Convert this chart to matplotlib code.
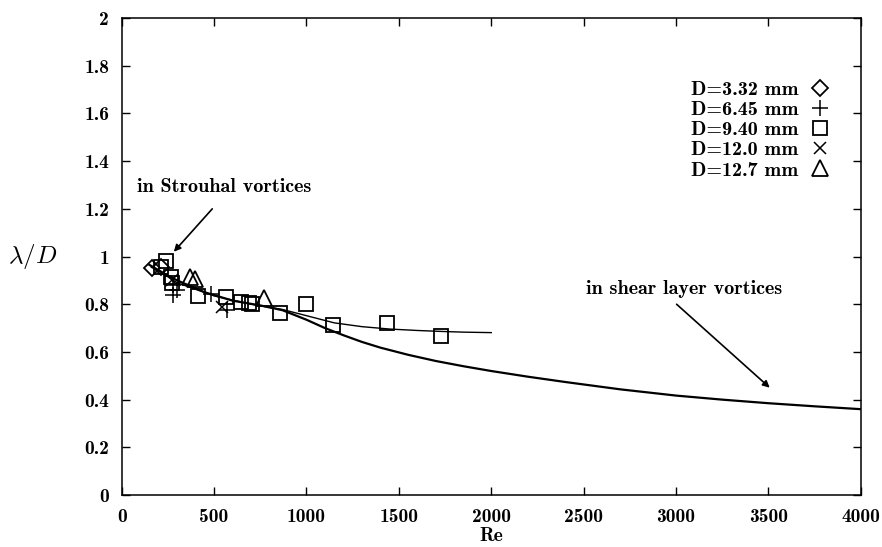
import numpy as np
import matplotlib.pyplot as plt

plt.rcParams['mathtext.fontset'] = 'cm'
plt.rcParams['font.family'] = ['cmb10', 'DejaVu Serif']
plt.rcParams['axes.unicode_minus'] = False

# measured points, one array pair per cylinder diameter
re_332 = [164, 210]
lam_332 = [0.950, 0.955]

re_645 = [276, 278, 481, 571, 300]
lam_645 = [0.880, 0.840, 0.843, 0.776, 0.860]

re_940 = [237, 210, 267, 273, 412, 565, 643, 688, 706, 855, 997, 1144, 1438, 1727]
lam_940 = [0.982, 0.957, 0.915, 0.890, 0.836, 0.829, 0.810, 0.804, 0.800, 0.765, 0.800, 0.713, 0.722, 0.667]

re_120 = [270, 544]
lam_120 = [0.900, 0.787]

re_127 = [372, 395, 770]
lam_127 = [0.915, 0.905, 0.825]

# fitted curves
re_strouhal = [160, 200, 300, 500, 700, 870, 1000, 1150, 1300, 1450, 1600, 1730, 1850, 2000]
lam_strouhal = [0.955, 0.940, 0.890, 0.835, 0.800, 0.778, 0.752, 0.722, 0.706, 0.696, 0.690, 0.686, 0.683, 0.681]

re_shear = [150, 250, 300, 450, 600, 750, 870, 1000, 1100, 1200, 1300, 1400, 1550, 1700,
            1850, 2000, 2200, 2400, 2700, 3000, 3250, 3500, 3750, 4000]
lam_shear = [0.965, 0.920, 0.900, 0.850, 0.815, 0.795, 0.775, 0.735, 0.700, 0.670, 0.642, 0.618,
             0.588, 0.562, 0.540, 0.520, 0.496, 0.474, 0.443, 0.417, 0.400, 0.385, 0.372, 0.360]

fig = plt.figure(figsize=(8.82, 5.47), dpi=100)
ax = fig.add_axes([0.138, 0.095, 0.838, 0.872])

ax.plot(re_shear, lam_shear, color='black', lw=1.6)
ax.plot(re_strouhal, lam_strouhal, color='black', lw=1.0)

mk = dict(linestyle='none', color='black', mfc='none', mew=1.3, ms=10)
ax.plot(re_332, lam_332, marker='D', label='D=3.32 mm', **dict(mk, ms=8))
ax.plot(re_645, lam_645, marker='+', label='D=6.45 mm', **dict(mk, ms=12, mew=1.1))
ax.plot(re_940, lam_940, marker='s', label='D=9.40 mm', **mk)
ax.plot(re_120, lam_120, marker='x', label='D=12.0 mm', **dict(mk, ms=8.5, mew=1.1))
ax.plot(re_127, lam_127, marker='^', label='D=12.7 mm', **dict(mk, ms=12))

ax.legend(loc='upper right', bbox_to_anchor=(0.97, 0.885), frameon=False,
          markerfirst=False, handlelength=1.1, handletextpad=0.5,
          labelspacing=0.1, fontsize=14.5, borderaxespad=0)

ax.annotate('in Strouhal vortices', xy=(282, 1.02), xytext=(83, 1.29),
            fontsize=14.5, va='center', ha='left')
ax.annotate('', xy=(282, 1.02), xytext=(490, 1.2),
            arrowprops=dict(arrowstyle='-|>', color='black', lw=1.2,
                            mutation_scale=10, shrinkA=0, shrinkB=0))
ax.text(2510, 0.865, 'in shear layer vortices', fontsize=14.5, va='center', ha='left')
ax.annotate('', xy=(3507, 0.45), xytext=(3003, 0.80),
            arrowprops=dict(arrowstyle='-|>', color='black', lw=1.2,
                            mutation_scale=10, shrinkA=0, shrinkB=0))

ax.set_xlim(0, 4000)
ax.set_ylim(0, 2)
ax.set_xticks(np.arange(0, 4001, 500))
ax.set_yticks(np.arange(0, 2.01, 0.2))
ax.set_yticklabels(['0', '0.2', '0.4', '0.6', '0.8', '1', '1.2', '1.4', '1.6', '1.8', '2'])
ax.tick_params(direction='in', length=6, width=1, top=True, right=True,
               labelsize=14, pad=9)
for s in ax.spines.values():
    s.set_linewidth(1.1)

ax.set_xlabel('Re', fontsize=14, labelpad=1)
ax.set_ylabel(r'$\lambda/D$', fontsize=18, rotation=0, va='center')
ax.yaxis.set_label_coords(-0.12, 0.5)

fig.savefig('out.png', dpi=100)
